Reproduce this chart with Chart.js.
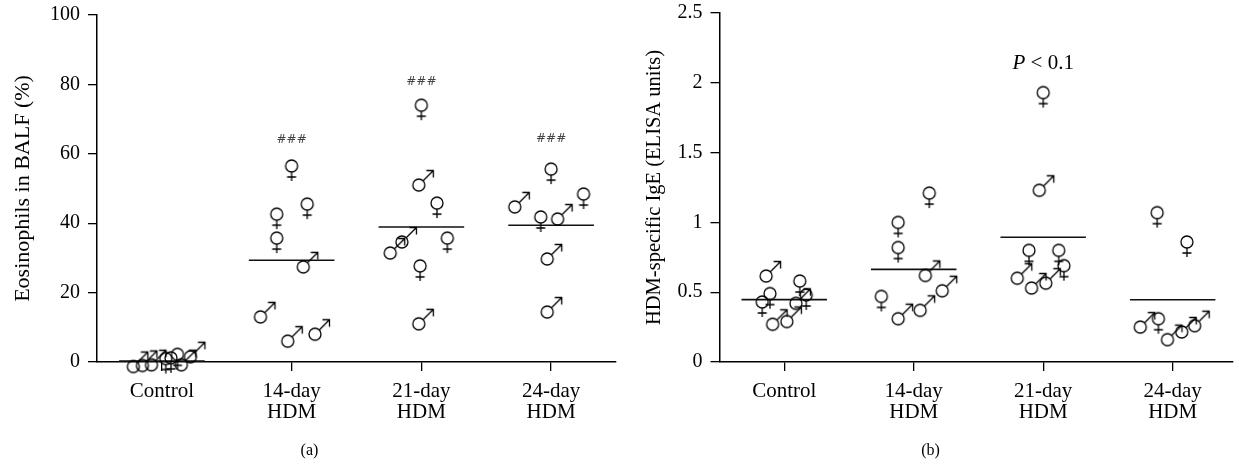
<!DOCTYPE html>
<html><head><meta charset="utf-8">
<script src="https://cdn.jsdelivr.net/npm/chart.js@4.4.1/dist/chart.umd.min.js"></script>
<style>
html,body{margin:0;padding:0;background:#fff;}
#wrap{position:relative;width:1239px;height:469px;overflow:hidden;background:#fff;}
#ca{position:absolute;left:0;top:0;}
#cb{position:absolute;left:622px;top:0;}
</style></head><body>
<div id="wrap">
<canvas id="ca" width="622" height="469"></canvas>
<canvas id="cb" width="617" height="469"></canvas>
</div>
<script>
// ---------- data ----------
const groupLabels = [["Control"], ["14-day", "HDM"], ["21-day", "HDM"], ["24-day", "HDM"]];
const groupTicks = [1, 2, 3, 4];

// Panel (a): Eosinophils in BALF (%)
const eosValues = [
  [-1.3, -1.0, -0.8, 1.0, 1.2, 2.2, -0.8, 1.5],
  [56.5, 45.5, 42.6, 35.7, 27.4, 13.0, 6.0, 8.0],
  [74.0, 51.0, 45.8, 35.7, 34.6, 31.4, 27.7, 11.0],
  [55.6, 44.7, 48.4, 41.8, 41.2, 29.7, 14.4]
];
const eosSex = [
  ["M", "M", "M", "F", "F", "F", "M", "M"],
  ["F", "F", "F", "F", "M", "M", "M", "M"],
  ["F", "M", "F", "F", "M", "M", "F", "M"],
  ["F", "M", "F", "F", "M", "M", "M"]
];
const eosJitter = [
  [-0.22, -0.15, -0.08, 0.03, 0.07, 0.12, 0.15, 0.22],
  [0, 0.12, -0.115, -0.115, 0.09, -0.24, -0.03, 0.18],
  [0, -0.02, 0.12, 0.2, -0.15, -0.24, -0.01, -0.02],
  [0, -0.28, 0.25, -0.08, 0.05, -0.03, -0.03]
];
const eosAnnot = ["", "###", "###", "###"];
const eosAnnotY = [null, 64, 80.7, 64.3];

// Panel (b): HDM-specific IgE (ELISA units)
const igeValues = [
  [0.616, 0.49, 0.43, 0.27, 0.29, 0.58, 0.42, 0.48],
  [1.21, 1.0, 0.82, 0.62, 0.47, 0.31, 0.37, 0.51],
  [1.93, 1.23, 0.80, 0.80, 0.60, 0.53, 0.565, 0.69],
  [1.07, 0.86, 0.25, 0.31, 0.16, 0.215, 0.26]
];
const igeSex = [
  ["M", "F", "F", "M", "M", "F", "M", "F"],
  ["F", "F", "F", "M", "F", "M", "M", "M"],
  ["F", "M", "F", "F", "M", "M", "M", "F"],
  ["F", "F", "M", "F", "M", "M", "M"]
];
const igeJitter = [
  [-0.14, -0.11, -0.17, -0.09, 0.02, 0.12, 0.09, 0.17],
  [0.12, -0.12, -0.12, 0.09, -0.25, -0.12, 0.05, 0.22],
  [0, -0.03, -0.11, 0.12, -0.2, -0.09, 0.02, 0.16],
  [-0.12, 0.11, -0.25, -0.11, -0.04, 0.07, 0.17]
];
const igeAnnot = ["", "", "P < 0.1", ""];
const igeAnnotY = [null, null, 2.14, null];

// ---------- helpers ----------
const SERIF = "'Liberation Serif', 'Times New Roman', serif";

function makeSymbol(kind) {
  const c = document.createElement('canvas');
  c.width = 40; c.height = 40;
  const g = c.getContext('2d');
  g.strokeStyle = '#000';
  g.lineWidth = 1.3;
  g.beginPath(); g.arc(20, 20, 6, 0, Math.PI * 2); g.stroke();
  g.beginPath();
  if (kind === 'F') {
    g.moveTo(20, 26); g.lineTo(20, 35);
    g.moveTo(15.5, 31); g.lineTo(24.5, 31);
  } else {
    const d = 6 / Math.SQRT2;
    g.moveTo(20 + d, 20 - d); g.lineTo(34.5, 5.5);
    g.moveTo(27.5, 5.5); g.lineTo(34.5, 5.5); g.lineTo(34.5, 12.5);
  }
  g.stroke();
  return c;
}
const SYMBOLS = { F: makeSymbol('F'), M: makeSymbol('M') };

const mean = arr => arr.reduce((a, b) => a + b, 0) / arr.length;

function pointData(values, jitter) {
  const out = [];
  values.forEach((grp, gi) => grp.forEach((v, k) => out.push({ x: groupTicks[gi] + jitter[gi][k], y: v })));
  return out;
}
function pointStyles(sex) {
  const out = [];
  sex.forEach(grp => grp.forEach(s => out.push(SYMBOLS[s])));
  return out;
}

const annotPlugin = {
  id: 'annot',
  afterDatasetsDraw(chart, args, opts) {
    const { ctx, scales } = chart;
    opts.texts.forEach((t, i) => {
      if (!t) return;
      const x = scales.x.getPixelForValue(groupTicks[i]);
      const y = scales.y.getPixelForValue(opts.ys[i]);
      ctx.save();
      ctx.textBaseline = 'middle';
      if (t.startsWith('P')) {
        const rest = t.slice(1);
        ctx.font = 'italic 21px ' + SERIF;
        const wP = ctx.measureText('P').width;
        ctx.font = '21px ' + SERIF;
        const wR = ctx.measureText(rest).width;
        const x0 = x - (wP + wR) / 2;
        ctx.fillStyle = '#000';
        ctx.textAlign = 'left';
        ctx.font = 'italic 21px ' + SERIF;
        ctx.fillText('P', x0, y);
        ctx.font = '21px ' + SERIF;
        ctx.fillText(rest, x0 + wP, y);
      } else {
        ctx.fillStyle = '#444';
        ctx.textAlign = 'center';
        ctx.font = '12px "DejaVu Sans", sans-serif';
        ctx.fillText(t, x, y);
      }
      ctx.restore();
    });
  }
};

function buildPanel(canvasId, cfg) {
  const datasets = [{
    type: 'scatter',
    data: pointData(cfg.values, cfg.jitter),
    pointStyle: pointStyles(cfg.sex),
    pointRadius: 6,
    borderWidth: 0,
    clip: false,
    order: 1
  }];
  cfg.values.forEach((grp, gi) => {
    const m = mean(grp);
    datasets.push({
      type: 'line',
      data: [{ x: groupTicks[gi] - 0.33, y: m }, { x: groupTicks[gi] + 0.33, y: m }],
      borderColor: '#111',
      borderWidth: 1.6,
      pointRadius: 0,
      clip: false,
      order: 2
    });
  });

  return new Chart(document.getElementById(canvasId), {
    data: { datasets },
    plugins: [annotPlugin],
    options: {
      responsive: false,
      devicePixelRatio: 1,
      animation: false,
      layout: { padding: { left: 0, right: cfg.padRight, top: cfg.padTop, bottom: 0 } },
      plugins: {
        legend: { display: false },
        tooltip: { enabled: false },
        title: {
          display: true, position: 'bottom', text: cfg.panel,
          color: '#000', font: { family: SERIF, size: 16, weight: 'normal' },
          padding: { top: 0, bottom: 9 }
        },
        annot: { texts: cfg.annot, ys: cfg.annotY }
      },
      scales: {
        x: {
          type: 'linear', min: 0.5, max: cfg.xMax,
          grid: { display: true, drawOnChartArea: false, drawTicks: true, tickLength: 9, color: '#000', lineWidth: 1.3 },
          border: { display: true, color: '#000', width: 1.5 },
          ticks: {
            color: '#000', font: { family: SERIF, size: 21, lineHeight: 1.0 }, padding: 10,
            maxRotation: 0, autoSkip: false,
            callback: v => groupLabels[groupTicks.indexOf(v)]
          },
          afterBuildTicks: s => { s.ticks = groupTicks.map(v => ({ value: v })); },
          afterFit: s => { s.height = 78.8; s.paddingLeft = 0; s.paddingRight = 0; }
        },
        y: {
          type: 'linear', min: 0, max: cfg.yMax,
          grid: { display: true, drawOnChartArea: false, drawTicks: true, tickLength: 9, color: '#000', lineWidth: 1.3 },
          border: { display: true, color: '#000', width: 1.5 },
          ticks: {
            color: '#000', font: { family: SERIF, size: 20 }, padding: 8,
            stepSize: cfg.yStep, callback: v => String(v)
          },
          title: {
            display: true, text: cfg.yTitle, color: '#000',
            font: { family: SERIF, size: cfg.titleSize }, padding: { top: cfg.titlePad, bottom: 0 }
          },
          afterFit: s => { s.width = cfg.yWidth; s.paddingTop = 0; s.paddingBottom = 0; }
        }
      }
    }
  });
}

buildPanel('ca', {
  values: eosValues, sex: eosSex, jitter: eosJitter,
  annot: eosAnnot, annotY: eosAnnotY,
  panel: '(a)', yTitle: 'Eosinophils in BALF (%)',
  yMax: 100, yStep: 20, xMax: 4.5,
  padTop: 15, padRight: 3, yWidth: 97, titlePad: 10, titleSize: 22
});
buildPanel('cb', {
  values: igeValues, sex: igeSex, jitter: igeJitter,
  annot: igeAnnot, annotY: igeAnnotY,
  panel: '(b)', yTitle: 'HDM-specific IgE (ELISA units)',
  yMax: 2.5, yStep: 0.5, xMax: 4.466,
  padTop: 13, padRight: 0, yWidth: 97.5, titlePad: 20, titleSize: 20.5
});
</script>
</body></html>
